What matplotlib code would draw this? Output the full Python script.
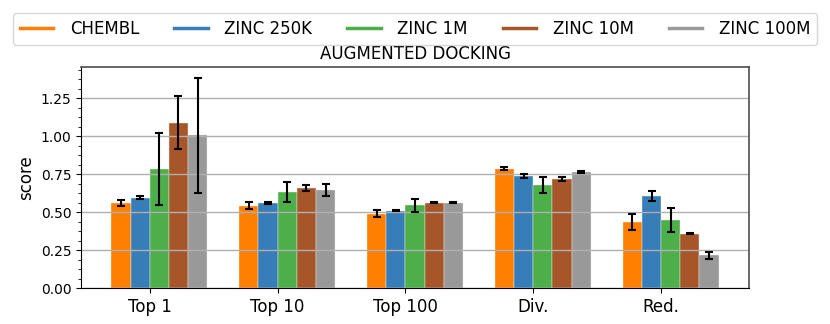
import numpy as np
import matplotlib
matplotlib.use('Agg')
import matplotlib.pyplot as plt
from matplotlib.lines import Line2D
from matplotlib.ticker import AutoMinorLocator

# Metrics on the x axis
categories = ['Top 1', 'Top 10', 'Top 100', 'Div.', 'Red.']
datasets = ['CHEMBL', 'ZINC 250K', 'ZINC 1M', 'ZINC 10M', 'ZINC 100M']
colors = ['#ff7f00', '#377eb8', '#4daf4a', '#a65628', '#999999']

# mean scores per dataset (one value per category)
chembl = [0.558, 0.540, 0.490, 0.786, 0.433]
zinc_250k = [0.595, 0.558, 0.509, 0.738, 0.606]
zinc_1m = [0.784, 0.632, 0.545, 0.679, 0.448]
zinc_10m = [1.089, 0.657, 0.562, 0.718, 0.358]
zinc_100m = [1.006, 0.646, 0.562, 0.762, 0.217]

# standard deviations
chembl_err = [0.020, 0.023, 0.024, 0.012, 0.053]
zinc_250k_err = [0.010, 0.005, 0.004, 0.013, 0.031]
zinc_1m_err = [0.235, 0.066, 0.044, 0.052, 0.080]
zinc_10m_err = [0.176, 0.018, 0.003, 0.014, 0.005]
zinc_100m_err = [0.379, 0.037, 0.003, 0.005, 0.023]

means = [chembl, zinc_250k, zinc_1m, zinc_10m, zinc_100m]
errs = [chembl_err, zinc_250k_err, zinc_1m_err, zinc_10m_err, zinc_100m_err]

fig = plt.figure(figsize=(8.3, 3.24), dpi=100)
ax = fig.add_axes([0.0976, 0.111, 0.8048, 0.682])

x = np.arange(len(categories))
width = 0.15
for i, (m, e) in enumerate(zip(means, errs)):
    ax.bar(x + (i - 1.5) * width, m, width, yerr=e, color=colors[i],
           edgecolor='#eeeeee', linewidth=0.3,
           error_kw=dict(ecolor='black', elinewidth=1.5, capsize=3, capthick=1.5))

ax.set_xticks(x)
ax.set_xticklabels(categories, fontsize=12)
ax.tick_params(axis='y', labelsize=10)
ax.yaxis.set_minor_locator(AutoMinorLocator(4))
ax.set_yticks([0, 0.25, 0.5, 0.75, 1.0, 1.25])
ax.set_ylabel('score', fontsize=12)
ax.set_title('AUGMENTED DOCKING', fontsize=12)
ax.grid(axis='y', color='#b0b0b0', linewidth=1)
for s in ['top', 'right']:
    ax.spines[s].set_color('0.3')
    ax.spines[s].set_linewidth(1.2)

# Legend uses line handles
handles = [Line2D([0], [0], color=c, linewidth=2.5) for c in colors]
fig.legend(handles, datasets, loc='upper center', bbox_to_anchor=(0.5, 0.985),
           ncol=5, fontsize=12, columnspacing=2.1, handletextpad=1.0)

fig.savefig('out.png', dpi=100)
